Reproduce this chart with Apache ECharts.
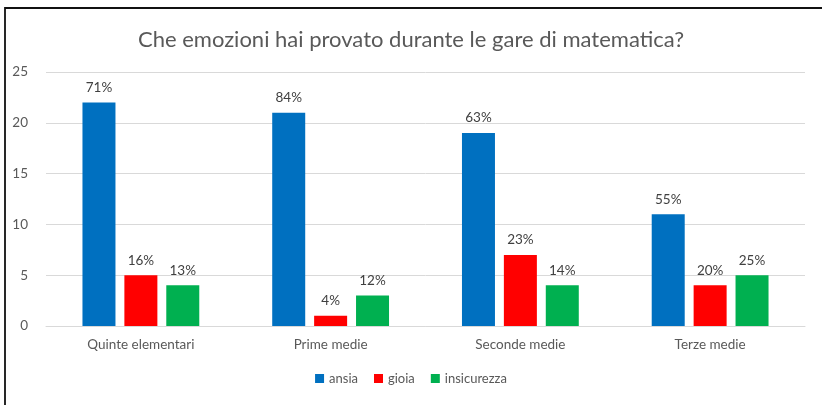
<!DOCTYPE html>
<html><head><meta charset="utf-8">
<script src="https://cdn.jsdelivr.net/npm/echarts@6/dist/echarts.min.js"></script>
<style>html,body{margin:0;padding:0;background:#fff}#c{width:822px;height:405px}</style>
</head><body><div id="c"></div>
<script>
const categories = ['Quinte elementari', 'Prime medie', 'Seconde medie', 'Terze medie'];
const ansia = [22, 21, 19, 11];
const gioia = [5, 1, 7, 4];
const insicurezza = [4, 3, 4, 5];
const ansiaPct = ['71%', '84%', '63%', '55%'];
const gioiaPct = ['16%', '4%', '23%', '20%'];
const insicurezzaPct = ['13%', '12%', '14%', '25%'];
const yTicks = [0, 5, 10, 15, 20, 25];

const chart = echarts.init(document.getElementById('c'));
const font = 'Lato, "Open Sans", sans-serif';
function mk(name, data, pct, color) {
  return {
    name, type: 'bar', data, barWidth: 33, barGap: '27%',
    itemStyle: { color },
    label: { show: true, position: 'top', distance: 8, color: '#404040', fontSize: 13.5, fontFamily: font,
      formatter: p => pct[p.dataIndex] }
  };
}
chart.setOption({
  animation: false,
  textStyle: { fontFamily: font },
  graphic: [{ type: 'rect', shape: { x: 5, y: 8, width: 830, height: 420 }, style: { fill: 'none', stroke: '#111', lineWidth: 1.8 } }],
  title: { text: 'Che emozioni hai provato durante le gare di matematica?', left: 'center', top: 24,
    textStyle: { color: '#595959', fontSize: 22, fontWeight: 'normal', fontFamily: font } },
  legend: { bottom: 15, left: 'center', itemWidth: 9, itemHeight: 9, itemGap: 16, icon: 'rect',
    textStyle: { color: '#595959', fontSize: 13, fontFamily: font } },
  grid: { left: 46, right: 17, top: 72, bottom: 79 },
  xAxis: { type: 'category', data: categories, axisTick: { show: false },
    axisLine: { lineStyle: { color: '#d9d9d9' } },
    axisLabel: { color: '#595959', fontSize: 13.5, margin: 12, fontFamily: font } },
  yAxis: { type: 'value', min: yTicks[0], max: yTicks[yTicks.length - 1], interval: 5,
    axisLine: { show: false }, axisTick: { show: false },
    splitLine: { lineStyle: { color: '#d9d9d9' } },
    axisLabel: { color: '#595959', fontSize: 13.5, margin: 18, fontFamily: font } },
  series: [mk('ansia', ansia, ansiaPct, '#0070C0'), mk('gioia', gioia, gioiaPct, '#FF0000'), mk('insicurezza', insicurezza, insicurezzaPct, '#00B050')]
});
</script></body></html>
